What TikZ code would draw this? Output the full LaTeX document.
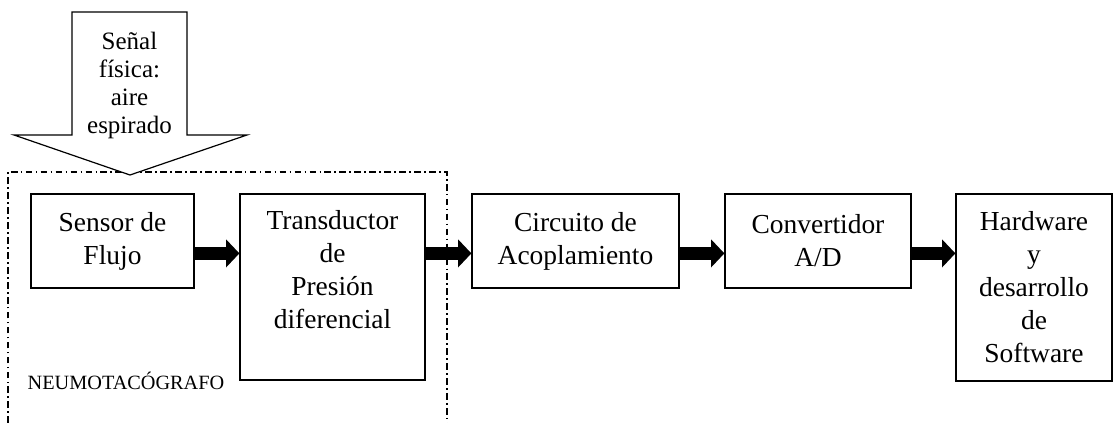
\documentclass[tikz,border=0pt]{standalone}
\usepackage{fontspec}
\setmainfont{Liberation Serif}
\usetikzlibrary{arrows.meta}
\tikzset{
  blk/.style={draw, line width=0.9pt, inner sep=0pt, align=center,
    font=\fontsize{20.6pt}{24.75pt}\selectfont},
  fat/.style={line width=10pt, -{Triangle[length=10pt,width=20.5pt]}},
  dd/.style={line width=0.8pt, dash pattern=on 5pt off 2.5pt on 1.2pt off 2.5pt},
}
\begin{document}
\begin{tikzpicture}[x=0.75pt,y=-0.75pt]
\useasboundingbox (0,0) rectangle (1114,423);
% dash-dot enclosure
\draw[dd] (8,423) -- (8,172) -- (447,172) -- (447,423);
% big input arrow
\draw[line width=0.9pt, fill=white] (72,12) -- (187,12) -- (187,135) -- (247,135) -- (130,175) -- (14,135) -- (72,135) -- cycle;
\node[align=center, font=\fontsize{18.75pt}{21pt}\selectfont] (sig) at (129.5,85) {Señal\\física:\\aire\\espirado};
% blocks
\node[blk, minimum width=122.25pt, minimum height=70.5pt] (sf) at (112.5,241) {Sensor de\\Flujo};
\node[blk, minimum width=138.75pt, minimum height=139.5pt] (td) at (332.5,287) {};
\node[align=center, font=\fontsize{20.6pt}{24.75pt}\selectfont] (tdt) at ([yshift=-57pt]td.north) {Transductor\\de\\Presión\\diferencial};
\node[blk, minimum width=155.25pt, minimum height=70.5pt] (ca) at (575.5,241) {Circuito de\\Acoplamiento};
\node[blk, minimum width=139.5pt, minimum height=70.5pt] (ad) at (818,241) {Convertidor\\A/D};
\node[blk, minimum width=117pt, minimum height=140.25pt] (hw) at (1034,287.5) {Hardware\\y\\desarrollo\\de\\Software};
\node[font=\fontsize{15.2pt}{18pt}\selectfont] (neu) at (126,381) {NEUMOTACÓGRAFO};
% connectors
\draw[fat] ([yshift=-45pt]sf.north east) -- ([yshift=-45pt]td.north west);
\draw[fat] ([yshift=-45pt]td.north east) -- ([yshift=-45pt]ca.north west);
\draw[fat] ([yshift=-45pt]ca.north east) -- ([yshift=-45pt]ad.north west);
\draw[fat] ([yshift=-45pt]ad.north east) -- ([yshift=-45pt]hw.north west);
\end{tikzpicture}
\end{document}
